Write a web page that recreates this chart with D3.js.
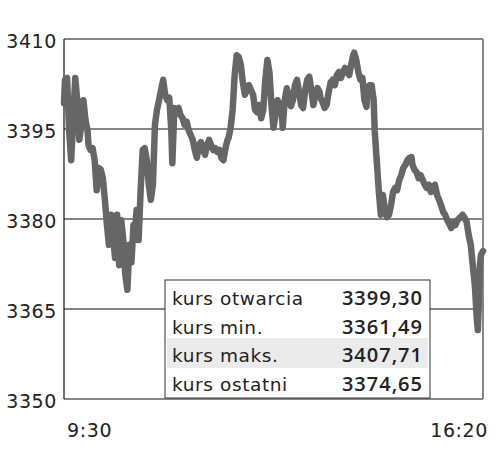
<!DOCTYPE html>
<html><head><meta charset="utf-8">
<script src="https://cdn.jsdelivr.net/npm/d3@7"></script>
<style>body{margin:0;background:#fff}svg{display:block}</style>
</head><body>
<svg id="c" width="500" height="455"></svg>
<script>
// minutes after 9:30
const minutes = [0,1,3,5,7,9,11,13,15,17,19,21,23,24,26,28,30,32,34,36,38,40,42,44,46,48,50,52,54,56,58,60,62,64,66,68,69,71,73,75,77,79,81,83,85,87,89,91,93,95,97,99,101,103,105,106,108,110,112,114,116,118,120,122,124,126,128,130,132,134,136,138,140,142,144,146,148,150,152,154,156,158,160,161,163,165,167,169,171,173,175,177,179,181,183,185,187,189,191,193,195,197,199,201,203,205,207,209,211,213,214,216,218,220,222,224,226,228,230,232,234,236,238,240,242,244,246,248,250,251,253,255,257,259,261,263,265,267,269,271,273,275,277,279,281,283,284,286,288,290,292,294,296,297,299,301,303,304,306,308,310,312,314,316,318,320,322,324,326,328,330,332,334,336,338,340,341,343,345,347,349,351,353,355,357,359,361,363,365,367,369,371,373,375,377,379,381,383,385,387,388,390,392,394,396,398,400,402,404,405,406,407,408,410];
const values = [3399.3,3403.2,3403.5,3394.8,3389.8,3396.5,3403.5,3399.8,3393.2,3395.7,3399.8,3396.5,3394.8,3392.3,3391.5,3391.8,3389.8,3384.8,3388.5,3388.2,3386.8,3383.2,3379,3375.7,3380.7,3377.3,3373.5,3380.7,3372.3,3379.8,3376.5,3370.7,3368.2,3375.7,3372.8,3379,3376.5,3381.5,3376.5,3384.8,3391.5,3391.8,3389.8,3385.7,3383.2,3385.7,3395.7,3398.2,3399.8,3401.5,3403.2,3400.7,3399.8,3400.2,3394.8,3389.3,3398.5,3398.2,3398.5,3397.3,3396.8,3395.7,3396.2,3394.8,3394,3393.2,3391.5,3390.2,3392.3,3392.8,3391.5,3390.7,3392.3,3393.2,3392.3,3391.5,3391.8,3391.2,3391.5,3390.2,3389.8,3391.8,3393.2,3393.5,3395.2,3398.2,3404,3407.3,3407,3405.7,3402.8,3400.7,3401.5,3402.3,3401.5,3400.7,3398.2,3397.8,3399,3396.8,3398.2,3403.2,3406.5,3404.5,3399,3395.2,3397.3,3399.8,3399,3398.2,3395.2,3399.8,3401.8,3400.5,3398.8,3399.8,3402.3,3403.2,3401.2,3399,3398.5,3401.5,3403.2,3403.7,3401.5,3399,3400.7,3401.8,3401.2,3400.2,3399.5,3398.5,3399,3401.2,3402.8,3403.2,3402.3,3404,3404.5,3403.5,3404.5,3405.2,3404.5,3404,3405.7,3407.3,3407.71,3406.5,3404.5,3403.2,3403.5,3399.8,3398.7,3401.8,3402.3,3402.3,3399.8,3394.8,3389.8,3384.8,3380.7,3384,3381.5,3380.3,3380.7,3382.3,3384.5,3385.2,3384.8,3386.5,3387.3,3388.5,3389,3389.8,3390.2,3390.3,3389,3388.2,3387.8,3386.8,3387.3,3386.5,3385.7,3385.2,3385.7,3384.5,3385.2,3385.7,3384,3383.2,3382.3,3381.2,3380.7,3379.8,3379.2,3378.5,3379.5,3379,3379.8,3380.2,3380.2,3380.7,3380.2,3379.5,3377.3,3375.7,3372.3,3369,3363.2,3361.49,3366.5,3372.3,3374,3374.65];
const yTicks = [3350,3365,3380,3395,3410];
const xTickLabels = ["9:30","16:20"];
const statLabels = ["kurs otwarcia","kurs min.","kurs maks.","kurs ostatni"];
const statValues = ["3399,30","3361,49","3407,71","3374,65"];

const svg = d3.select("#c");
const L=64, R=483, T=39, B=399;
const x = d3.scaleLinear().domain([0,410]).range([L,R]);
const y = d3.scaleLinear().domain([3350,3410]).range([B,T]);
const font = "DejaVu Sans, sans-serif";

// gridlines
svg.append("g").selectAll("line").data(yTicks).join("line")
  .attr("x1",L).attr("x2",R).attr("y1",d=>y(d)).attr("y2",d=>y(d))
  .attr("stroke","#111").attr("stroke-width",1.2);
// right border
svg.append("line").attr("x1",R).attr("x2",R).attr("y1",T).attr("y2",B)
  .attr("stroke","#888").attr("stroke-width",2);
// left axis
svg.append("line").attr("x1",L).attr("x2",L).attr("y1",T).attr("y2",B)
  .attr("stroke","#111").attr("stroke-width",1.2);

// y labels
svg.append("g").selectAll("text").data(yTicks).join("text")
  .attr("x",57).attr("y",d=>y(d)+9).attr("text-anchor","end")
  .attr("font-family",font).attr("font-size",19).attr("letter-spacing",0.6)
  .attr("fill","#222").text(d=>d);
// x labels
svg.append("text").attr("x",x(0)+3).attr("y",437).attr("text-anchor","start")
  .attr("font-family",font).attr("font-size",19).attr("letter-spacing",0.6)
  .attr("fill","#222").text(xTickLabels[0]);
svg.append("text").attr("x",x(410)+5).attr("y",437).attr("text-anchor","end")
  .attr("font-family",font).attr("font-size",19).attr("letter-spacing",0.6)
  .attr("fill","#222").text(xTickLabels[1]);

// line
const data = minutes.map((m,i)=>({m, v: values[i]}));
svg.append("path").datum(data)
  .attr("d", d3.line().x(d=>x(d.m)).y(d=>y(d.v)))
  .attr("fill","none").attr("stroke","#666").attr("stroke-width",6.5)
  .attr("stroke-linejoin","round").attr("stroke-linecap","round");

// legend box
const bx=165, by=280, bw=265, bh=118, rowH=28.5;
const g = svg.append("g");
g.append("rect").attr("x",bx).attr("y",by).attr("width",bw).attr("height",bh)
  .attr("fill","#fff").attr("stroke","#333").attr("stroke-width",1);
g.append("rect").attr("x",bx+2).attr("y",by+58).attr("width",bw-4).attr("height",30)
  .attr("fill","#ebebeb");
g.selectAll("text.l").data(statLabels).join("text").attr("class","l")
  .attr("x",bx+7).attr("y",(d,i)=>305+i*rowH)
  .attr("font-family",font).attr("font-size",18.5).attr("letter-spacing",0.6)
  .attr("fill","#222").text(d=>d);
g.selectAll("text.v").data(statValues).join("text").attr("class","v")
  .attr("x",bx+258).attr("y",(d,i)=>305+i*rowH).attr("text-anchor","end")
  .attr("font-family","'Open Sans', sans-serif").attr("font-size",20).attr("font-weight",600)
  .attr("letter-spacing",1)
  .attr("fill","#222").text(d=>d);
</script>
</body></html>
